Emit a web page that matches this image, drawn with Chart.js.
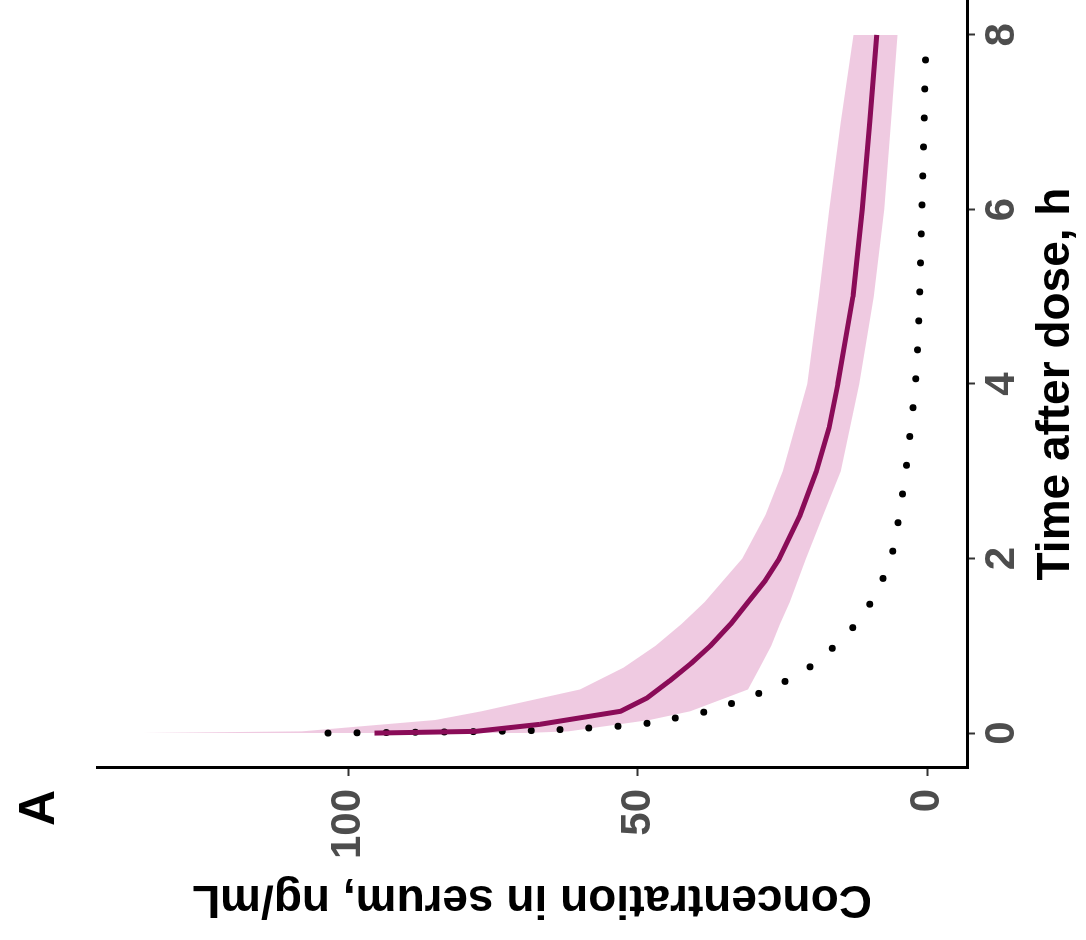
<!DOCTYPE html>
<html>
<head>
<meta charset="utf-8">
<title>Concentration in serum</title>
<script src="https://cdn.jsdelivr.net/npm/chart.js@4.4.1/dist/chart.umd.min.js"></script>
<style>
  html, body { margin: 0; padding: 0; background: #fff; overflow: hidden; }
  body { width: 1086px; height: 940px; position: relative; }
  /* the panel is laid out upright, then turned a quarter turn to the left */
  #panel {
    position: absolute; left: 0; top: 0;
    width: 940px; height: 1086px;
    transform-origin: 0 0;
    transform: translateY(940px) rotate(-90deg);
  }
  #panel canvas { position: absolute; left: 0; top: 0; }
  #tag {
    position: absolute; left: 114px; top: 7px;
    font: bold 50px 'Liberation Sans', Arial, sans-serif;
    line-height: 60px; color: #000;
  }
</style>
</head>
<body>
<div id="panel">
  <canvas id="pkChart" width="940" height="1086"></canvas>
  <div id="tag">A</div>
</div>
<script>
// prediction band (hours, ng/mL)
const timeBand = [0, 0.02, 0.15, 0.25, 0.5, 0.75, 1, 1.25, 1.5, 2, 2.5, 3, 4, 5, 6, 7, 8];
const bandUpper = [137, 108, 85, 77, 60, 52.5, 47, 42.5, 38.5, 32, 28, 25, 20.8, 18.8, 17, 15, 12.8];
const bandLower = [70, 62, 48, 41, 31, 29, 27, 25.5, 23.8, 21, 18, 15, 11.8, 9.3, 7.5, 6.3, 5.2];

// median profile
const timeMedian = [0, 0.02, 0.1, 0.25, 0.4, 0.6, 0.8, 1, 1.25, 1.5, 1.75, 2, 2.5, 3, 3.5, 4, 5, 6, 7, 8];
const medianConc = [95.5, 78, 67, 53, 48.5, 44.5, 40.8, 37.5, 34, 31, 28, 25.6, 22, 19.2, 17, 15.5, 12.9, 11.3, 10, 8.8];

// dotted reference profile
const timeRef = [0, 0.02, 0.06, 0.1, 0.18, 0.25, 0.36, 0.5, 0.75, 1, 1.25, 1.5, 2, 2.5, 3, 3.5, 4, 5, 6, 7, 8];
const refConc = [103.5, 75, 58, 50, 43, 38, 33, 27.5, 20.5, 16, 12.4, 9.8, 6.4, 4.9, 3.8, 2.9, 2.1, 1.4, 1.0, 0.6, 0.3];

const timeTicks = [0, 2, 4, 6, 8];
const concTicks = [0, 50, 100];

const FONT = "'Liberation Sans', Arial, sans-serif";

function toPoints(xs, ys) {
    return xs.map((x, i) => ({ x: x, y: ys[i] }));
}

function fixedTicks(values) {
    return (scale) => { scale.ticks = values.map(v => ({ value: v })); };
}

const axisGrid = {
    drawOnChartArea: false,
    drawTicks: true,
    tickLength: 8,
    tickWidth: 2,
    color: '#333',
    tickColor: '#333'
};
const axisBorder = { display: true, color: '#000', width: 3 };
const tickFont = { family: FONT, size: 42, weight: 'bold', lineHeight: 1.2 };
const titleFont = { family: FONT, size: 46, weight: 'bold', lineHeight: 1.2 };

new Chart(document.getElementById('pkChart'), {
    type: 'line',
    data: {
        datasets: [
            {
                label: 'Median',
                data: toPoints(timeMedian, medianConc),
                borderColor: '#8a0c58',
                borderWidth: 5,
                tension: 0,
                borderJoinStyle: 'round',
                pointRadius: 0,
                fill: false,
                order: 0
            },
            {
                label: 'Reference',
                data: toPoints(timeRef, refConc),
                borderColor: '#000',
                borderWidth: 7,
                borderDash: [0, 29],
                borderCapStyle: 'round',
                cubicInterpolationMode: 'monotone',
                pointRadius: 0,
                fill: false,
                order: 1
            },
            {
                label: 'Upper',
                data: toPoints(timeBand, bandUpper),
                borderColor: 'transparent',
                borderWidth: 0,
                pointRadius: 0,
                tension: 0,
                fill: '+1',
                backgroundColor: 'rgba(222, 145, 192, 0.48)',
                order: 2
            },
            {
                label: 'Lower',
                data: toPoints(timeBand, bandLower),
                borderColor: 'transparent',
                borderWidth: 0,
                pointRadius: 0,
                tension: 0,
                fill: false,
                order: 3
            }
        ]
    },
    options: {
        responsive: false,
        animation: false,
        devicePixelRatio: 1,
        layout: { padding: { top: 97, left: 0, right: 0, bottom: 0 } },
        plugins: {
            legend: { display: false },
            tooltip: { enabled: false }
        },
        scales: {
            x: {
                type: 'linear',
                min: -0.4,
                max: 8.4,
                afterBuildTicks: fixedTicks(timeTicks),
                afterFit: (scale) => { scale.height = 119; },
                grid: axisGrid,
                border: axisBorder,
                ticks: { font: tickFont, color: '#4d4d4d', padding: 2, maxRotation: 0, autoSkip: false },
                title: {
                    display: true,
                    text: 'Time after dose, h',
                    font: titleFont,
                    color: '#000',
                    padding: { top: 0, bottom: 2 }
                }
            },
            y: {
                type: 'linear',
                min: -6.8,
                max: 143.4,
                afterBuildTicks: fixedTicks(concTicks),
                afterFit: (scale) => { scale.width = 172; },
                grid: axisGrid,
                border: axisBorder,
                ticks: { font: tickFont, color: '#4d4d4d', padding: 13, autoSkip: false },
                title: {
                    display: true,
                    text: 'Concentration in serum, ng/mL',
                    font: titleFont,
                    color: '#000',
                    padding: { top: 14, bottom: 0 }
                }
            }
        }
    }
});
</script>
</body>
</html>
